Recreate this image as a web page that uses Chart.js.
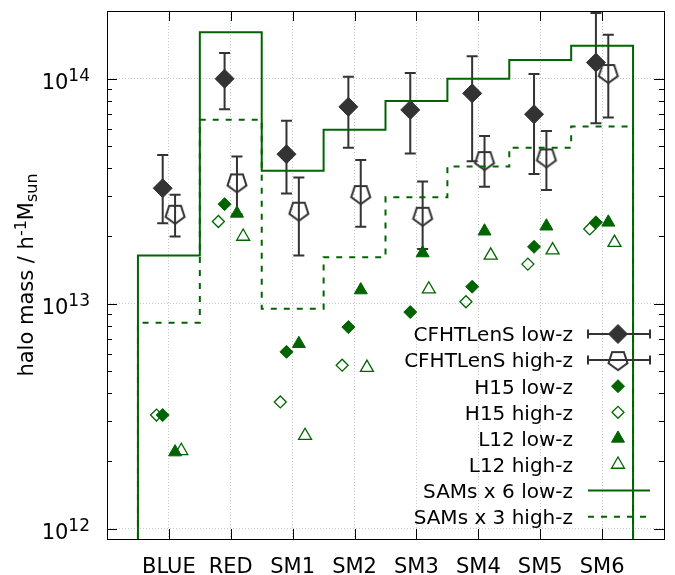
<!DOCTYPE html>
<html>
<head>
<meta charset="utf-8">
<script src="https://cdn.jsdelivr.net/npm/chart.js@4"></script>
<style>
  html, body { margin: 0; padding: 0; overflow: hidden; background: #fff; }
  canvas { display: block; }
</style>
</head>
<body>
<canvas id="halo" width="680" height="575"></canvas>
<script>
'use strict'

// Samples along the x axis
const CATEGORIES = ['BLUE', 'RED', 'SM1', 'SM2', 'SM3', 'SM4', 'SM5', 'SM6']

// CFHTLenS lensing halo masses with error bar ends
const CFHT_LOW = [3.26e13, 1.00e14, 4.62e13, 7.50e13, 7.27e13, 8.61e13, 6.95e13, 1.18e14]
const CFHT_LOW_MIN = [2.28e13, 7.31e13, 3.09e13, 4.94e13, 4.65e13, 4.30e13, 3.77e13, 6.34e13]
const CFHT_LOW_MAX = [4.58e13, 1.30e14, 6.50e13, 1.02e14, 1.06e14, 1.26e14, 1.05e14, 1.96e14]
const CFHT_HIGH = [2.51e13, 3.46e13, 2.59e13, 3.07e13, 2.46e13, 4.35e13, 4.47e13, 1.06e14]
const CFHT_HIGH_MIN = [1.99e13, 2.50e13, 1.64e13, 2.20e13, 1.75e13, 3.31e13, 3.20e13, 6.72e13]
const CFHT_HIGH_MAX = [3.05e13, 4.51e13, 3.64e13, 4.35e13, 3.49e13, 5.57e13, 5.86e13, 1.57e14]

// Semi-analytic models
const H15_LOW = [3.20e12, 2.77e13, 6.11e12, 7.87e12, 9.18e12, 1.19e13, 1.79e13, 2.30e13]
const H15_HIGH = [3.20e12, 2.32e13, 3.66e12, 5.33e12, null, 1.02e13, 1.50e13, 2.15e13]
const L12_LOW = [2.19e12, 2.52e13, 6.64e12, 1.15e13, 1.68e13, 2.10e13, 2.21e13, 2.30e13]
const L12_HIGH = [2.22e12, 1.99e13, 2.59e12, 5.20e12, 1.16e13, 1.64e13, 1.73e13, 1.87e13]

// SAM averages, already scaled (x6 low-z, x3 high-z)
const SAM_LOW = [1.64e13, 1.61e14, 3.90e13, 5.93e13, 7.97e13, 1.00e14, 1.21e14, 1.40e14]
const SAM_HIGH = [8.24e12, 6.57e13, 9.50e12, 1.61e13, 2.97e13, 4.07e13, 4.94e13, 6.13e13]

// Labelled decades on the y axis
const Y_DECADES = [12, 13, 14]
const Y_MIN = 9e11
const Y_MAX = 2e14

const FONT = 'DejaVu Sans'
const GREEN = '#006400'
const GREY = '#333333'

function pentagon (size, r, color, lw) {
  const c = document.createElement('canvas')
  c.width = c.height = size
  const g = c.getContext('2d')
  g.strokeStyle = color
  g.lineWidth = lw
  g.beginPath()
  for (let k = 0; k < 5; k++) {
    const a = Math.PI / 2 + k * 2 * Math.PI / 5
    const px = size / 2 + r * Math.cos(a)
    const py = size / 2 + r * Math.sin(a)
    if (k) g.lineTo(px, py)
    else g.moveTo(px, py)
  }
  g.closePath()
  g.stroke()
  return c
}
const PENTAGON = pentagon(26, 10, GREY, 2)

const points = (vals, off) => vals.map((v, i) => ({ x: i + off, y: v }))

// step outline: each category holds its value over [i-0.5, i+0.5]
function steps (vals) {
  const pts = [{ x: -0.5, y: Y_MIN }]
  vals.forEach((v, i) => pts.push({ x: i - 0.5, y: v }))
  pts.push({ x: vals.length - 0.5, y: Y_MIN })
  return pts
}

const isDecade = v => Math.abs(Math.log10(v) - Math.round(Math.log10(v))) < 1e-6

// drawn bottom to top
const layers = [
  {
    label: 'CFHTLenS low-z',
    data: points(CFHT_LOW, -0.1),
    pointStyle: 'rectRot',
    pointRadius: 9.5,
    backgroundColor: GREY,
    borderColor: GREY,
    borderWidth: 1
  },
  {
    label: 'CFHTLenS high-z',
    data: points(CFHT_HIGH, 0.1),
    pointStyle: PENTAGON,
    pointRadius: 10
  },
  {
    label: 'H15 low-z',
    data: points(H15_LOW, -0.1),
    pointStyle: 'rectRot',
    pointRadius: 6.5,
    backgroundColor: GREEN,
    borderColor: GREEN,
    borderWidth: 1
  },
  {
    label: 'H15 high-z',
    data: points(H15_HIGH, -0.2),
    pointStyle: 'rectRot',
    pointRadius: 6,
    backgroundColor: 'transparent',
    borderColor: GREEN,
    borderWidth: 1.3
  },
  {
    label: 'L12 low-z',
    data: points(L12_LOW, 0.1),
    pointStyle: 'triangle',
    pointRadius: 7.5,
    backgroundColor: GREEN,
    borderColor: GREEN,
    borderWidth: 1
  },
  {
    label: 'L12 high-z',
    data: points(L12_HIGH, 0.2),
    pointStyle: 'triangle',
    pointRadius: 7.5,
    backgroundColor: 'transparent',
    borderColor: GREEN,
    borderWidth: 1.3
  },
  {
    type: 'line',
    label: 'SAMs x 6 low-z',
    data: steps(SAM_LOW),
    stepped: 'before',
    borderColor: GREEN,
    borderWidth: 2,
    pointRadius: 0,
    fill: false
  },
  {
    type: 'line',
    label: 'SAMs x 3 high-z',
    data: steps(SAM_HIGH),
    stepped: 'before',
    borderColor: GREEN,
    borderWidth: 2,
    borderDash: [6, 7],
    pointRadius: 0,
    fill: false
  }
]
layers.forEach((d, k) => { d.order = layers.length - k })

function errorBars (chart, lo, hi, off) {
  const { ctx, scales: { x, y } } = chart
  ctx.strokeStyle = GREY
  ctx.lineWidth = 2
  lo.forEach((v, i) => {
    const px = x.getPixelForValue(i + off)
    const y1 = y.getPixelForValue(v)
    const y2 = y.getPixelForValue(hi[i])
    ctx.beginPath()
    ctx.moveTo(px, y1)
    ctx.lineTo(px, y2)
    ctx.moveTo(px - 5.5, y1)
    ctx.lineTo(px + 5.5, y1)
    ctx.moveTo(px - 5.5, y2)
    ctx.lineTo(px + 5.5, y2)
    ctx.stroke()
  })
}

const errorBarPlugin = {
  id: 'errorBars',
  beforeDatasetsDraw (chart) {
    const { ctx, chartArea: a } = chart
    ctx.save()
    ctx.beginPath()
    ctx.rect(a.left, a.top, a.right - a.left, a.bottom - a.top)
    ctx.clip()
    errorBars(chart, CFHT_LOW_MIN, CFHT_LOW_MAX, -0.1)
    errorBars(chart, CFHT_HIGH_MIN, CFHT_HIGH_MAX, 0.1)
    ctx.restore()
  }
}

// run of text with super/subscript pieces: [text, size, shift]
function richText (ctx, parts, x, y, align) {
  ctx.textAlign = 'left'
  const widths = parts.map(([t, s]) => {
    ctx.font = s + 'px "' + FONT + '"'
    return ctx.measureText(t).width
  })
  const total = widths.reduce((a, b) => a + b, 0)
  let cx = align === 'right' ? x - total : align === 'center' ? x - total / 2 : x
  parts.forEach(([t, s, dy], k) => {
    ctx.font = s + 'px "' + FONT + '"'
    ctx.fillText(t, cx, y + dy)
    cx += widths[k]
  })
}

const framePlugin = {
  id: 'frame',
  afterDraw (chart) {
    const { ctx, chartArea: a, scales: { x, y } } = chart
    ctx.save()
    ctx.strokeStyle = '#000'
    ctx.lineWidth = 1

    // inward ticks on all four sides
    ctx.beginPath()
    for (let p = 11; p <= 14; p++) {
      for (let m = 1; m <= 9; m++) {
        const v = m * Math.pow(10, p)
        const py = Math.round(y.getPixelForValue(v)) + 0.5
        if (py <= a.top + 1 || py >= a.bottom - 1) continue
        const len = m === 1 ? 10 : 5
        ctx.moveTo(a.left, py)
        ctx.lineTo(a.left + len, py)
        ctx.moveTo(a.right, py)
        ctx.lineTo(a.right - len, py)
      }
    }
    CATEGORIES.forEach((c, i) => {
      const px = Math.round(x.getPixelForValue(i)) + 0.5
      ctx.moveTo(px, a.bottom)
      ctx.lineTo(px, a.bottom - 10)
      ctx.moveTo(px, a.top)
      ctx.lineTo(px, a.top + 10)
    })
    ctx.stroke()
    ctx.strokeRect(a.left + 0.5, a.top + 0.5, a.right - a.left, a.bottom - a.top)

    // y tick labels as powers of ten
    ctx.fillStyle = '#000'
    ctx.textBaseline = 'alphabetic'
    Y_DECADES.forEach(p => {
      const py = y.getPixelForValue(Math.pow(10, p))
      richText(ctx, [['10', 21, 0], [String(p), 17, -7.5]], a.left - 17, py + 9.8, 'right')
    })

    // y axis title
    ctx.save()
    ctx.translate(33, (a.top + a.bottom) / 2)
    ctx.rotate(-Math.PI / 2)
    richText(ctx, [['halo mass / h', 21, 0], ['-1', 16, -7], ['M', 21, 0], ['sun', 16, 4]], 0, 0, 'center')
    ctx.restore()

    // key, text right-aligned with sample on the right
    const textRight = 573
    const s0 = 588
    const s1 = 650
    const sc = 618
    layers.forEach((d, k) => {
      const ry = 334 + k * 26.1
      ctx.fillStyle = '#000'
      ctx.font = '20px "' + FONT + '"'
      ctx.textAlign = 'right'
      ctx.fillText(d.label, textRight, ry + 7.3)
      if (d.type === 'line') {
        ctx.strokeStyle = d.borderColor
        ctx.lineWidth = d.borderWidth
        ctx.setLineDash(d.borderDash || [])
        ctx.beginPath()
        ctx.moveTo(s0, ry)
        ctx.lineTo(s1, ry)
        ctx.stroke()
        ctx.setLineDash([])
        return
      }
      if (k < 2) {
        ctx.strokeStyle = GREY
        ctx.lineWidth = 2
        ctx.beginPath()
        ctx.moveTo(s0, ry)
        ctx.lineTo(s1, ry)
        ctx.moveTo(s0, ry - 4.5)
        ctx.lineTo(s0, ry + 4.5)
        ctx.moveTo(s1, ry - 4.5)
        ctx.lineTo(s1, ry + 4.5)
        ctx.stroke()
      }
      ctx.fillStyle = d.backgroundColor || 'transparent'
      ctx.strokeStyle = d.borderColor || GREY
      ctx.lineWidth = d.borderWidth || 1
      Chart.helpers.drawPoint(ctx, {
        pointStyle: d.pointStyle,
        radius: d.pointRadius,
        rotation: 0,
        borderWidth: d.borderWidth || 0
      }, sc, ry)
    })
    ctx.restore()
  }
}

new Chart(document.getElementById('halo'), {
  type: 'scatter',
  data: { datasets: layers },
  options: {
    responsive: false,
    animation: false,
    layout: { padding: { top: 10, right: 3, left: 0, bottom: 0 } },
    plugins: {
      legend: { display: false },
      tooltip: { enabled: false }
    },
    scales: {
      x: {
        type: 'linear',
        min: -1,
        max: 8,
        afterFit: s => { s.height = 36 },
        ticks: {
          stepSize: 1,
          autoSkip: false,
          maxRotation: 0,
          padding: 16,
          color: '#000',
          font: { family: FONT, size: 21 },
          callback: v => CATEGORIES[v] || ''
        },
        grid: {
          drawTicks: false,
          lineWidth: 1,
          color: c => (c.tick && c.tick.value >= 0 && c.tick.value < CATEGORIES.length) ? '#c8c8c8' : 'transparent'
        },
        border: { display: false, dash: [1, 2] }
      },
      y: {
        type: 'logarithmic',
        min: Y_MIN,
        max: Y_MAX,
        afterFit: s => { s.width = 107 },
        ticks: { display: false },
        grid: {
          drawTicks: false,
          lineWidth: 1,
          color: c => (c.tick && isDecade(c.tick.value)) ? '#c8c8c8' : 'transparent'
        },
        border: { display: false, dash: [1, 2] }
      }
    }
  },
  plugins: [errorBarPlugin, framePlugin]
})
</script>
</body>
</html>
